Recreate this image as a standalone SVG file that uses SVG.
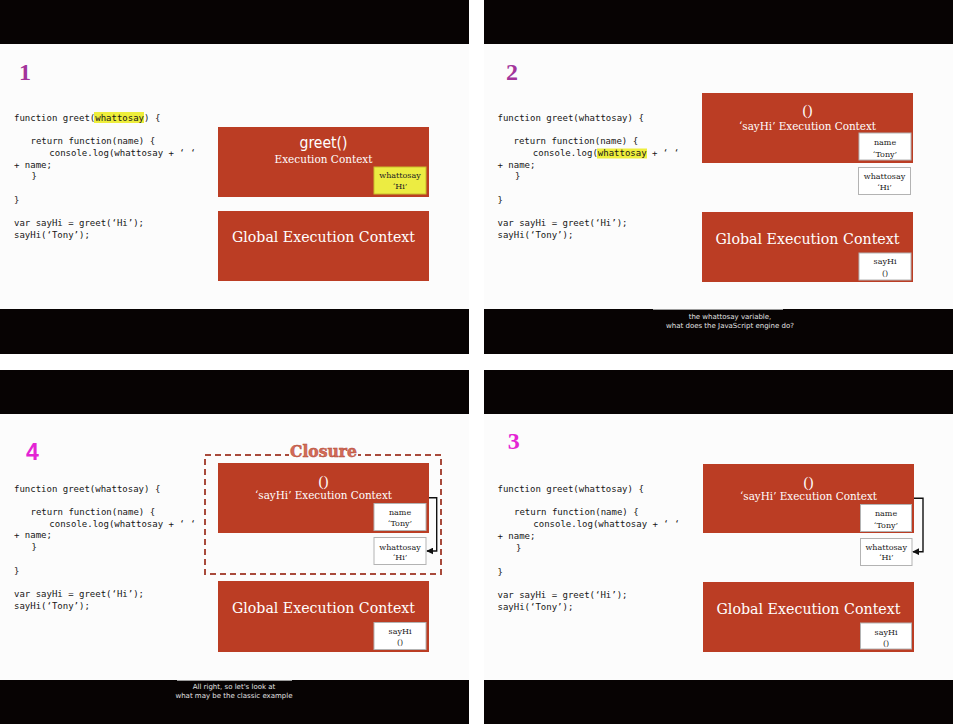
<svg xmlns="http://www.w3.org/2000/svg" width="953" height="724" viewBox="0 0 953 724">
<defs>
<style>
.bg{fill:#ffffff}
.panel{fill:#fcfcfc}
.bar{fill:#070303}
.ctx{fill:#bb3d24}
.code{font-family:"DejaVu Sans Mono","Liberation Mono",monospace;font-size:9px;fill:#161616}
.hl{fill:#eeee3c}
.t{font-family:"DejaVu Serif","Liberation Serif",serif;fill:#ffffff;text-anchor:middle}
.glob{font-size:15px}
.ec{font-size:10.5px}
.par{font-family:"Liberation Serif",serif;font-size:15px;fill:#ffffff;text-anchor:middle}
.gr{font-family:"DejaVu Sans","Liberation Sans",sans-serif;font-size:15px;fill:#ffffff;text-anchor:middle}
.vbox{fill:#ffffff;stroke:#b3b3b3;stroke-width:1}
.ybox{fill:#ecec42;stroke:#c9bd2a;stroke-width:1}
.v{font-family:"DejaVu Serif","Liberation Serif",serif;font-size:8px;fill:#222222;text-anchor:middle}
.cap{font-family:"DejaVu Sans","Liberation Sans",sans-serif;font-size:7px;fill:#e2e2e2;text-anchor:middle}
.num1{font-family:"Liberation Serif",serif;font-weight:bold;font-size:24px;fill:#a3349b;text-anchor:middle}
.num2{font-family:"Liberation Serif",serif;font-weight:bold;font-size:24px;fill:#e424d4;text-anchor:middle}
.num3{font-family:"Liberation Sans",sans-serif;font-weight:bold;font-size:23px;fill:#e424d4;text-anchor:middle}
.conn{fill:none;stroke:#111111;stroke-width:1.4}
</style>
<marker id="ah" viewBox="0 0 10 10" refX="9" refY="5" markerWidth="5" markerHeight="5" orient="auto">
<path d="M0,0 L10,5 L0,10 z" fill="#111111"/>
</marker>
</defs>

<rect class="bg" x="0" y="0" width="953" height="724"/>

<!-- panel backgrounds and black bars -->
<g id="frames">
<rect class="panel" x="0" y="0" width="469" height="354"/>
<rect class="panel" x="484" y="0" width="469" height="354"/>
<rect class="panel" x="0" y="370" width="469" height="354"/>
<rect class="panel" x="484" y="370" width="469" height="354"/>
<rect class="bar" x="0" y="0" width="469" height="44"/>
<rect class="bar" x="484" y="0" width="469" height="44"/>
<rect class="bar" x="0" y="309" width="469" height="45"/>
<rect class="bar" x="484" y="309" width="469" height="45"/>
<rect class="bar" x="0" y="370" width="469" height="44"/>
<rect class="bar" x="484" y="370" width="469" height="44"/>
<rect class="bar" x="0" y="680" width="469" height="44"/>
<rect class="bar" x="484" y="680" width="469" height="44"/>
</g>

<!-- ============ PANEL 1 ============ -->
<g id="p1-number"><text class="num1" x="25" y="80">1</text></g>
<g id="p1-code">
<rect class="hl" x="94" y="112" width="50" height="11"/>
<text class="code" x="14" y="121">function greet(whattosay) {</text>
<text class="code" x="30.5" y="144.3">return function(name) {</text>
<text class="code" x="49.3" y="156">console.log(whattosay + ‘ ‘</text>
<text class="code" x="14" y="167.7">+ name;</text>
<text class="code" x="31.5" y="179.4">}</text>
<text class="code" x="14" y="202.8">}</text>
<text class="code" x="14" y="226.2">var sayHi = greet(‘Hi’);</text>
<text class="code" x="14" y="237.9">sayHi(‘Tony’);</text>
</g>
<g id="p1-greet-ctx">
<rect class="ctx" x="218" y="127" width="211" height="70"/>
<text class="gr" x="323.5" y="148" textLength="48" lengthAdjust="spacingAndGlyphs">greet()</text>
<text class="t ec" x="323.5" y="163" textLength="98" lengthAdjust="spacingAndGlyphs">Execution Context</text>
</g>
<g id="p1-whattosay">
<rect class="ybox" x="374" y="167" width="52" height="27"/>
<text class="v" x="400" y="178">whattosay</text>
<text class="v" x="400" y="189">‘Hi’</text>
</g>
<g id="p1-global">
<rect class="ctx" x="218" y="211" width="211" height="70"/>
<text class="t glob" x="323.5" y="242" textLength="183" lengthAdjust="spacingAndGlyphs">Global Execution Context</text>
</g>

<!-- ============ PANEL 2 ============ -->
<g id="p2-number"><text class="num1" x="512" y="80">2</text></g>
<g id="p2-code">
<rect class="hl" x="597" y="148.5" width="50" height="10"/>
<text class="code" x="497.5" y="121">function greet(whattosay) {</text>
<text class="code" x="513.5" y="144.3">return function(name) {</text>
<text class="code" x="532.8" y="156">console.log(whattosay + ‘ ‘</text>
<text class="code" x="497.5" y="167.7">+ name;</text>
<text class="code" x="515" y="179.4">}</text>
<text class="code" x="497.5" y="202.8">}</text>
<text class="code" x="497.5" y="226.2">var sayHi = greet(‘Hi’);</text>
<text class="code" x="497.5" y="237.9">sayHi(‘Tony’);</text>
</g>
<g id="p2-sayhi-ctx">
<rect class="ctx" x="702" y="93" width="211" height="70"/>
<text class="par" x="807.5" y="115">()</text>
<text class="t ec" x="807.5" y="129.5" textLength="137" lengthAdjust="spacingAndGlyphs">‘sayHi’ Execution Context</text>
</g>
<g id="p2-name">
<rect class="vbox" x="859" y="133" width="52" height="27"/>
<text class="v" x="885" y="144.5">name</text>
<text class="v" x="885" y="157">‘Tony’</text>
</g>
<g id="p2-whattosay">
<rect class="vbox" x="858.5" y="167.5" width="52" height="27"/>
<text class="v" x="884.5" y="179">whattosay</text>
<text class="v" x="884.5" y="189.5">‘Hi’</text>
</g>
<g id="p2-global">
<rect class="ctx" x="702" y="212" width="211" height="70"/>
<text class="t glob" x="807.5" y="243.5" textLength="184" lengthAdjust="spacingAndGlyphs">Global Execution Context</text>
</g>
<g id="p2-sayhi-var">
<rect class="vbox" x="859" y="253" width="52" height="27"/>
<text class="v" x="885" y="263.5">sayHi</text>
<text class="v" x="885" y="275.5">()</text>
</g>
<g id="p2-caption">
<line x1="653" y1="309.5" x2="783" y2="309.5" stroke="#9c9c9c" stroke-width="1"/>
<text class="cap" x="730" y="319">the whattosay variable,</text>
<text class="cap" x="730" y="327.5">what does the JavaScript engine do?</text>
</g>

<!-- ============ PANEL 4 (bottom-left) ============ -->
<g id="p4-number"><text class="num3" x="32.5" y="459.5">4</text></g>
<g id="p4-code">
<text class="code" x="14" y="491.5">function greet(whattosay) {</text>
<text class="code" x="30.5" y="514.9">return function(name) {</text>
<text class="code" x="49.3" y="526.6">console.log(whattosay + ‘ ‘</text>
<text class="code" x="14" y="538.3">+ name;</text>
<text class="code" x="31.5" y="550">}</text>
<text class="code" x="14" y="573.6">}</text>
<text class="code" x="14" y="597.2">var sayHi = greet(‘Hi’);</text>
<text class="code" x="14" y="608.9">sayHi(‘Tony’);</text>
</g>
<g id="p4-closure">
<rect x="205" y="455" width="236" height="119" fill="none" stroke="#a84a3b" stroke-width="2" stroke-dasharray="6,4"/>
<rect x="289" y="450" width="69" height="9" fill="#fcfcfc"/>
<text x="323.5" y="457" font-family="DejaVu Serif, serif" font-weight="bold" font-size="16" fill="#d46b57" stroke="#b34b38" stroke-width="0.5" text-anchor="middle" textLength="67" lengthAdjust="spacingAndGlyphs">Closure</text>
</g>
<g id="p4-sayhi-ctx">
<rect class="ctx" x="218" y="463" width="211" height="70"/>
<text class="par" x="323.5" y="485.5">()</text>
<text class="t ec" x="323.5" y="498.5" textLength="137" lengthAdjust="spacingAndGlyphs">‘sayHi’ Execution Context</text>
</g>
<g id="p4-name">
<rect class="vbox" x="374" y="503.5" width="52" height="27"/>
<text class="v" x="400" y="515">name</text>
<text class="v" x="400" y="525.5">‘Tony’</text>
</g>
<g id="p4-whattosay">
<rect class="vbox" x="374" y="537.5" width="52" height="27"/>
<text class="v" x="400" y="549.5">whattosay</text>
<text class="v" x="400" y="559.5">‘Hi’</text>
</g>
<g id="p4-global">
<rect class="ctx" x="218" y="581" width="211" height="71"/>
<text class="t glob" x="323.5" y="613" textLength="183" lengthAdjust="spacingAndGlyphs">Global Execution Context</text>
</g>
<g id="p4-sayhi-var">
<rect class="vbox" x="374" y="622.5" width="52" height="27"/>
<text class="v" x="400" y="634">sayHi</text>
<text class="v" x="400" y="645">()</text>
</g>
<g id="p4-caption">
<line x1="177" y1="680.5" x2="292" y2="680.5" stroke="#9c9c9c" stroke-width="1"/>
<text class="cap" x="234" y="689">All right, so let's look at</text>
<text class="cap" x="234" y="697.5">what may be the classic example</text>
</g>

<!-- ============ PANEL 3 (bottom-right) ============ -->
<g id="p3-number"><text class="num2" x="513.7" y="448.5">3</text></g>
<g id="p3-code">
<text class="code" x="497.5" y="491.5">function greet(whattosay) {</text>
<text class="code" x="514" y="515.3">return function(name) {</text>
<text class="code" x="533.3" y="527.2">console.log(whattosay + ‘ ‘</text>
<text class="code" x="497.5" y="539">+ name;</text>
<text class="code" x="516" y="550.8">}</text>
<text class="code" x="497.5" y="574.6">}</text>
<text class="code" x="497.5" y="598.2">var sayHi = greet(‘Hi’);</text>
<text class="code" x="497.5" y="610">sayHi(‘Tony’);</text>
</g>
<g id="p3-sayhi-ctx">
<rect class="ctx" x="703" y="464" width="211" height="69"/>
<text class="par" x="808.5" y="486.5">()</text>
<text class="t ec" x="808.5" y="500" textLength="137" lengthAdjust="spacingAndGlyphs">‘sayHi’ Execution Context</text>
</g>
<g id="p3-name">
<rect class="vbox" x="860.5" y="504.5" width="51" height="27"/>
<text class="v" x="886" y="516">name</text>
<text class="v" x="886" y="528">‘Tony’</text>
</g>
<g id="p3-whattosay">
<rect class="vbox" x="860.5" y="538.5" width="51.5" height="27"/>
<text class="v" x="886.2" y="549.5">whattosay</text>
<text class="v" x="886.2" y="560">‘Hi’</text>
</g>
<g id="p3-global">
<rect class="ctx" x="703" y="582" width="211" height="70"/>
<text class="t glob" x="808.5" y="613.5" textLength="184" lengthAdjust="spacingAndGlyphs">Global Execution Context</text>
</g>
<g id="p3-sayhi-var">
<rect class="vbox" x="860.5" y="623" width="51" height="26"/>
<text class="v" x="886" y="634.5">sayHi</text>
<text class="v" x="886" y="646">()</text>
</g>

<!-- ============ CONNECTORS ============ -->
<g id="connectors">
<path class="conn" d="M429,497.7 H436.7 V551 H427" marker-end="url(#ah)"/>
<path class="conn" d="M914,498.3 H923 V551.7 H913" marker-end="url(#ah)"/>
</g>
</svg>
